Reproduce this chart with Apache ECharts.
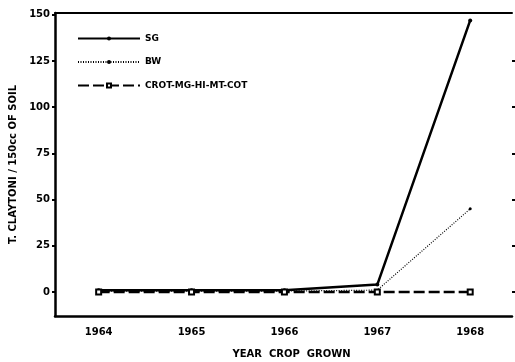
<!DOCTYPE html>
<html>
<head>
<meta charset="utf-8">
<script src="https://cdn.jsdelivr.net/npm/echarts@6/dist/echarts.min.js"></script>
<style>
  html, body { margin: 0; padding: 0; background: #fff; }
  #main { width: 515px; height: 362px; }
</style>
</head>
<body>
<div id="main"></div>
<script>
// years on the x axis
const years = [1964, 1965, 1966, 1967, 1968];
// T. claytoni per 150cc of soil
const sgValues = [1, 1, 1, 4, 147];
const bwValues = [0.5, 0.5, 0.5, 1, 45];
const crotValues = [0, 0, 0, 0, 0];
const seriesNames = ["SG", "BW", "CROT-MG-HI-MT-COT"];
const yTicks = [0, 25, 50, 75, 100, 125, 150];
const rightTicks = [0, 25, 50, 75, 100, 125];

const font = "DejaVu Sans";
const pairs = (vals) => years.map((y, i) => [y, vals[i]]);

const chart = echarts.init(document.getElementById("main"));
chart.setOption({
  animation: false,
  backgroundColor: "#fff",
  grid: { left: 55, right: 3, top: 13, bottom: 46, outerBoundsMode: "none", containLabel: false },
  legend: {
    orient: "vertical",
    left: 72,
    top: 29,
    itemWidth: 62,
    itemHeight: 5,
    itemGap: 14.5,
    textStyle: { fontFamily: font, fontWeight: "bold", fontSize: 9, color: "#000" },
    data: seriesNames,
  },
  xAxis: [
    {
      type: "value",
      min: 1963.53,
      max: 1968.45,
      position: "bottom",
      name: "YEAR  CROP  GROWN",
      nameLocation: "middle",
      nameGap: 33,
      nameTextStyle: { fontFamily: font, fontWeight: "bold", fontSize: 10, color: "#000", padding: [0, 0, 0, 16] },
      axisLine: { onZero: false, lineStyle: { color: "#000", width: 2.5 } },
      axisTick: { show: false },
      splitLine: { show: false },
      axisLabel: {
        customValues: years,
        margin: 11,
        fontFamily: font, fontWeight: "bold", fontSize: 10, color: "#000",
        formatter: (v) => String(v),
      },
    },
    {
      type: "value",
      min: 1963.53,
      max: 1968.45,
      position: "top",
      axisLine: { show: true, onZero: false, lineStyle: { color: "#000", width: 2 } },
      axisTick: { show: false },
      axisLabel: { show: false },
      splitLine: { show: false },
    },
  ],
  yAxis: [
    {
      type: "value",
      min: -13,
      max: 151,
      position: "left",
      name: "T. CLAYTONI / 150cc OF SOIL",
      nameLocation: "middle",
      nameGap: 35,
      nameTextStyle: { fontFamily: font, fontWeight: "bold", fontSize: 10, color: "#000" },
      axisLine: { show: true, onZero: false, lineStyle: { color: "#000", width: 2.5 } },
      axisTick: { show: true, customValues: yTicks, length: 3, lineStyle: { color: "#000", width: 2 } },
      splitLine: { show: false },
      axisLabel: {
        customValues: yTicks,
        margin: 5,
        fontFamily: font, fontWeight: "bold", fontSize: 10, color: "#000",
      },
    },
    {
      type: "value",
      min: -13,
      max: 151,
      position: "right",
      axisLine: { show: false, onZero: false },
      axisTick: { show: true, customValues: rightTicks, length: 3, lineStyle: { color: "#000", width: 2 } },
      axisLabel: { show: false },
      splitLine: { show: false },
    },
  ],
  series: [
    {
      name: seriesNames[0],
      type: "line",
      data: pairs(sgValues),
      symbol: "circle",
      symbolSize: 4,
      itemStyle: { color: "#000" },
      lineStyle: { color: "#000", width: 2.5 },
    },
    {
      name: seriesNames[1],
      type: "line",
      data: pairs(bwValues),
      symbol: "circle",
      symbolSize: 3,
      itemStyle: { color: "#000" },
      lineStyle: { color: "#000", width: 1.2, type: [1, 1.5] },
    },
    {
      name: seriesNames[2],
      type: "line",
      data: pairs(crotValues),
      symbol: "emptyRect",
      symbolSize: 5,
      itemStyle: { color: "#000", borderColor: "#000", borderWidth: 1 },
      lineStyle: { color: "#000", width: 2.6, type: [11, 4] },
    },
  ],
});
</script>
</body>
</html>
